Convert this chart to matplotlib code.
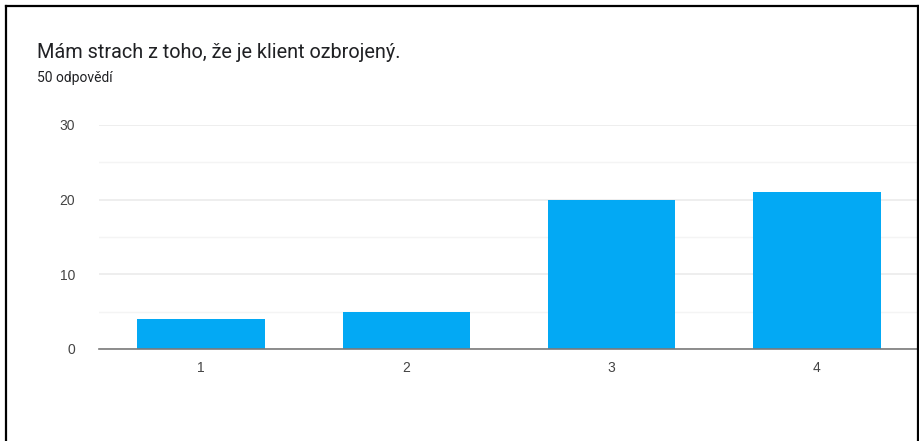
import matplotlib.pyplot as plt
from matplotlib.lines import Line2D
from matplotlib.ticker import MultipleLocator

# odpovědi na škále 1-4
categories = ["1", "2", "3", "4"]
counts = [4, 5, 20, 21]

title = "Mám strach z toho, že je klient ozbrojený."
subtitle = "50 odpovědí"

W, H = 920, 441
fig = plt.figure(figsize=(W / 100, H / 100), dpi=100)
fig.patch.set_facecolor("white")

# osa: x 98..919 px, y 125..349 px
ax = fig.add_axes([98.5 / W, 1 - 349 / H, (919.5 - 98.5) / W, (349 - 125) / H])
x = range(1, len(categories) + 1)
ax.bar(x, counts, width=0.62, color="#03A9F4", zorder=3)
ax.set_xlim(0.5, len(categories) + 0.5)
ax.set_ylim(0, 30)
ax.set_xticks(list(x))
ax.set_xticklabels(categories)
ax.yaxis.set_major_locator(MultipleLocator(10))
ax.yaxis.set_minor_locator(MultipleLocator(5))
ax.grid(axis="y", which="major", color="#ebebeb", linewidth=1.2, zorder=0)
ax.grid(axis="y", which="minor", color="#f4f4f4", linewidth=1.0, zorder=0)
for s in ["top", "right", "left"]:
    ax.spines[s].set_visible(False)
ax.spines["bottom"].set_color("#7a7a7a")
ax.spines["bottom"].set_linewidth(1.2)
ax.spines["bottom"].set_zorder(4)
ax.tick_params(axis="both", which="both", length=0, labelsize=10,
               labelcolor="#444444")
ax.tick_params(axis="x", pad=9)
ax.tick_params(axis="y", pad=17)
for lab in ax.get_xticklabels() + ax.get_yticklabels():
    lab.set_family("Liberation Sans")

fig.text(37 / W, 1 - 58 / H, title, fontsize=14.3, family="Roboto",
         color="#202124", va="baseline")
fig.text(37 / W, 1 - 82 / H, subtitle, fontsize=10, family="Roboto",
         color="#202124", va="baseline")

# rámeček kolem výřezu
for xs, ys in [([6, 6], [6, H]), ([6, 918], [6, 6]), ([918, 918], [6, H])]:
    fig.add_artist(Line2D([v / W for v in xs], [1 - v / H for v in ys],
                          color="black", linewidth=1.6))

fig.savefig("out.png", dpi=100)
